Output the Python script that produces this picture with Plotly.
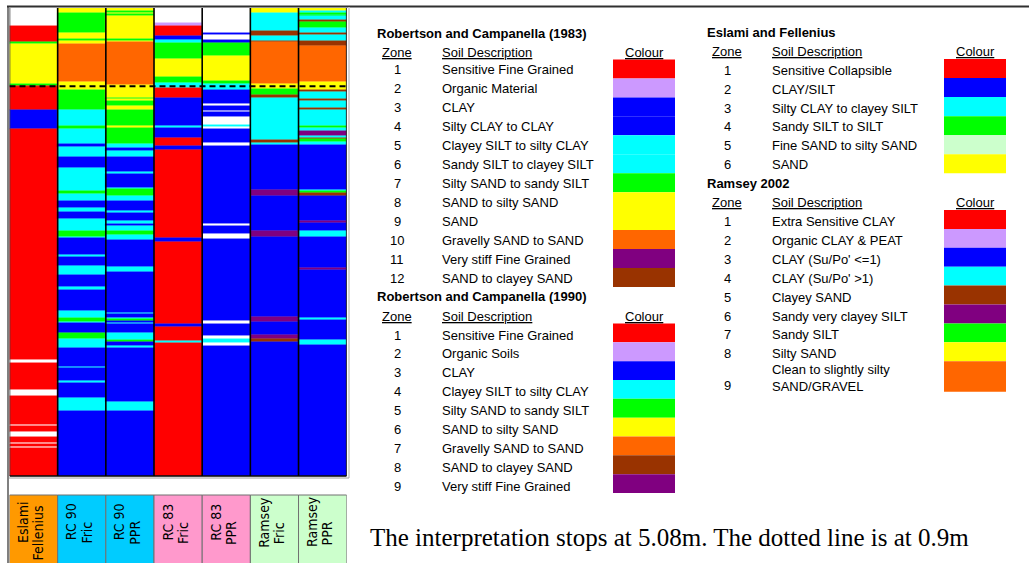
import plotly.graph_objects as go

W, H = 1029, 563

# ---------------- data ----------------
col_line1 = ["Eslami", "RC 90", "RC 90", "RC 83", "RC 83", "Ramsey", "Ramsey"]
col_line2 = ["Fellenius", "Fric", "PPR", "Fric", "PPR", "Fric", "PPR"]
col_scheme = ["EF", "RC90", "RC90", "RC83", "RC83", "RAM", "RAM"]
label_colours = ["#FF9900", "#00CCFF", "#00CCFF", "#FF99CC", "#FF99CC", "#CCFFCC", "#CCFFCC"]

depth_top = 0.06
depth_end = 5.08
dotted_depth = 0.9

# layer boundaries (m) and zone codes (0 = no interpretation)
ef_bounds = [0.06, 0.25, 0.43, 0.45, 0.88, 0.90, 1.15, 1.36, 3.84, 3.87, 4.16, 4.22, 4.53,
             4.54, 4.61, 4.66, 4.73, 4.74, 4.77, 4.78, 5.08]
ef_zones = [0, 1, 4, 6, 4, 1, 2, 1, 0, 1, 0, 1, 0, 1, 0, 1, 0, 1, 0, 1]

rc90_fric_bounds = [0.06, 0.11, 0.33, 0.39, 0.41, 0.45, 0.85, 0.94, 1.15, 1.33, 1.36, 1.52, 1.55,
                    1.66, 1.78, 2.02, 2.06, 2.13, 2.20, 2.25, 2.32, 2.45, 2.52, 2.53, 2.71, 2.73,
                    2.83, 2.92, 3.05, 3.09, 3.31, 3.38, 3.43, 3.44, 3.55, 3.61, 3.71, 3.91, 3.92,
                    4.06, 4.08, 4.24, 4.38, 5.08]
rc90_fric_zones = [6, 5, 6, 5, 6, 7, 6, 5, 4, 5, 4, 3, 4, 3, 4, 5, 4, 3, 4, 3, 4, 5, 4, 3, 4, 3,
                   4, 3, 4, 3, 4, 5, 4, 3, 5, 4, 3, 4, 3, 4, 3, 4, 3]

rc90_ppr_bounds = [0.06, 0.09, 0.11, 0.12, 0.15, 0.39, 0.41, 0.43, 0.89, 1.02, 1.04, 1.06, 1.11,
                   1.15, 1.33, 1.35, 1.52, 1.56, 1.59, 1.66, 1.82, 1.84, 1.99, 2.00, 2.08, 2.13,
                   2.24, 2.26, 2.34, 2.38, 2.40, 2.45, 2.50, 2.55, 2.84, 2.89, 3.33, 3.34, 3.38,
                   3.40, 3.42, 3.44, 3.45, 3.55, 3.62, 3.64, 3.69, 3.71, 4.29, 4.38, 5.08]
rc90_ppr_zones = [6, 5, 6, 5, 6, 5, 6, 7, 6, 5, 6, 5, 6, 5, 6, 5, 4, 3, 4, 3, 4, 3, 4, 5, 4, 3,
                  4, 3, 4, 3, 4, 5, 4, 3, 4, 3, 4, 3, 4, 5, 3, 4, 3, 4, 5, 3, 4, 3, 4, 3]

rc83_fric_bounds = [0.06, 0.22, 0.25, 0.36, 0.40, 0.44, 0.61, 0.80, 0.86, 0.92, 1.02, 1.33, 1.35,
                    1.45, 1.54, 1.58, 2.53, 2.57, 3.45, 3.48, 3.63, 3.65, 5.08]
rc83_fric_zones = [0, 2, 1, 3, 5, 7, 8, 7, 5, 1, 3, 5, 3, 1, 3, 1, 3, 1, 3, 1, 5, 1]

rc83_ppr_bounds = [0.06, 0.33, 0.35, 0.40, 0.44, 0.57, 0.84, 0.88, 0.94, 1.09, 1.11, 1.16, 1.18,
                   1.23, 1.31, 1.34, 1.36, 1.51, 1.54, 2.38, 2.40, 2.48, 2.54, 3.42, 3.45, 3.58,
                   3.61, 3.65, 3.69, 5.08]
rc83_ppr_zones = [0, 3, 0, 3, 7, 8, 7, 5, 3, 0, 3, 0, 3, 0, 5, 0, 3, 0, 3, 0, 3, 0, 3, 0, 3, 0,
                  5, 0, 3]

ram_fric_bounds = [0.06, 0.11, 0.31, 0.36, 0.41, 0.43, 0.87, 0.93, 0.99, 1.02, 1.48, 1.51, 1.53,
                   2.01, 2.08, 2.45, 2.52, 3.37, 3.43, 3.57, 3.61, 3.64, 5.08]
ram_fric_zones = [8, 4, 5, 4, 5, 9, 8, 7, 5, 4, 5, 4, 3, 6, 3, 6, 3, 6, 3, 6, 5, 3]

ram_ppr_bounds = [0.06, 0.09, 0.11, 0.13, 0.14, 0.15, 0.19, 0.21, 0.27, 0.33, 0.35, 0.41, 0.47,
                  0.85, 0.94, 0.96, 1.04, 1.06, 1.13, 1.15, 1.33, 1.35, 1.38, 1.43, 1.45, 1.47,
                  1.50, 1.53, 2.01, 2.02, 2.04, 2.08, 2.35, 2.37, 2.45, 2.52, 2.85, 2.87, 3.38,
                  3.41, 3.62, 3.67, 5.08]
ram_ppr_zones = [8, 4, 7, 4, 7, 4, 5, 7, 4, 5, 4, 5, 9, 8, 5, 4, 5, 4, 5, 4, 7, 4, 6, 4, 5, 7,
                 4, 3, 4, 7, 5, 3, 6, 3, 4, 3, 6, 3, 4, 3, 4, 3]

# legends
rc83_zone = [1, 2, 3, 4, 5, 6, 7, 8, 9, 10, 11, 12]
rc83_desc = ["Sensitive Fine Grained", "Organic Material", "CLAY", "Silty CLAY to CLAY",
             "Clayey SILT to silty CLAY", "Sandy SILT to clayey SILT", "Silty SAND to sandy SILT",
             "SAND to silty SAND", "SAND", "Gravelly SAND to SAND", "Very stiff Fine Grained",
             "SAND to clayey SAND"]
rc83_col = ["#FF0000", "#CC99FF", "#0000FF", "#0000FF", "#00FFFF", "#00FFFF", "#00FF00",
            "#FFFF00", "#FFFF00", "#FF6600", "#800080", "#993300"]

rc90_zone = [1, 2, 3, 4, 5, 6, 7, 8, 9]
rc90_desc = ["Sensitive Fine Grained", "Organic Soils", "CLAY", "Clayey SILT to silty CLAY",
             "Silty SAND to sandy SILT", "SAND to silty SAND", "Gravelly SAND to SAND",
             "SAND to clayey SAND", "Very stiff Fine Grained"]
rc90_col = ["#FF0000", "#CC99FF", "#0000FF", "#00FFFF", "#00FF00", "#FFFF00", "#FF6600",
            "#993300", "#800080"]

ef_zone = [1, 2, 3, 4, 5, 6]
ef_desc = ["Sensitive Collapsible", "CLAY/SILT", "Silty CLAY to clayey SILT", "Sandy SILT to SILT",
           "Fine SAND to silty SAND", "SAND"]
ef_col = ["#FF0000", "#0000FF", "#00FFFF", "#00FF00", "#CCFFCC", "#FFFF00"]

ram_zone = [1, 2, 3, 4, 5, 6, 7, 8, 9]
ram_desc = ["Extra Sensitive CLAY", "Organic CLAY & PEAT", "CLAY (Su/Po' <=1)", "CLAY (Su/Po' >1)",
            "Clayey SAND", "Sandy very clayey SILT", "Sandy SILT", "Silty SAND",
            "Clean to slightly silty<br>SAND/GRAVEL"]
ram_col = ["#FF0000", "#CC99FF", "#0000FF", "#00FFFF", "#993300", "#800080", "#00FF00",
           "#FFFF00", "#FF6600"]

note_text = "The interpretation stops at 5.08m. The dotted line is at 0.9m"

# ---------------- figure ----------------
lookup = {
    "EF": dict(zip(ef_zone, ef_col)),
    "RC90": dict(zip(rc90_zone, rc90_col)),
    "RC83": dict(zip(rc83_zone, rc83_col)),
    "RAM": dict(zip(ram_zone, ram_col)),
}
columns = [(ef_bounds, ef_zones), (rc90_fric_bounds, rc90_fric_zones),
           (rc90_ppr_bounds, rc90_ppr_zones), (rc83_fric_bounds, rc83_fric_zones),
           (rc83_ppr_bounds, rc83_ppr_zones), (ram_fric_bounds, ram_fric_zones),
           (ram_ppr_bounds, ram_ppr_zones)]


def px(x):
    return x / W


def py(y):
    return 1 - y / H


fig = go.Figure()
for i, (b, z) in enumerate(columns):
    n = len(z)
    tops = b[:n]
    thick = [b[k + 1] - b[k] for k in range(n)]
    cols = [lookup[col_scheme[i]].get(zz, "#FFFFFF") for zz in z]
    fig.add_trace(go.Bar(x=[i] * n, y=thick, base=tops, width=1.0,
                         marker=dict(color=cols, line=dict(color=cols, width=0.4)),
                         showlegend=False, hoverinfo="skip"))

y_top_px, y_bot_px = 8, 476
shapes = []
# column separators
for k in range(len(columns) + 1):
    xs = k - 0.5
    col = "#000000"
    if k == 0:
        col = "#404040"
    shapes.append(dict(type="line", xref="x", yref="paper", x0=xs, x1=xs,
                       y0=py(y_bot_px), y1=py(y_top_px), line=dict(color=col, width=1.6)))
# bottom line of strips
shapes.append(dict(type="line", xref="x", yref="paper", x0=-0.5, x1=len(columns) - 0.5,
                   y0=py(y_bot_px), y1=py(y_bot_px), line=dict(color="#000000", width=1.6)))
# outer frame
shapes.append(dict(type="line", xref="paper", yref="paper", x0=px(8), x1=px(8),
                   y0=py(7), y1=py(H + 2), line=dict(color="#808080", width=2)))
shapes.append(dict(type="line", xref="paper", yref="paper", x0=px(7), x1=px(W + 2),
                   y0=py(6.5), y1=py(6.5), line=dict(color="#303030", width=2)))
shapes.append(dict(type="line", xref="paper", yref="paper", x0=px(349), x1=px(349),
                   y0=py(7), y1=py(478), line=dict(color="#C8C8C8", width=1.5)))
shapes.append(dict(type="line", xref="paper", yref="paper", x0=px(9), x1=px(349),
                   y0=py(478), y1=py(478), line=dict(color="#A0A0A0", width=1)))
# dotted line
shapes.append(dict(type="line", xref="x", yref="y", x0=-0.5, x1=len(columns) - 0.5,
                   y0=dotted_depth, y1=dotted_depth,
                   line=dict(color="#000000", width=2, dash="6px,4px")))
# label boxes
for i, c in enumerate(label_colours):
    shapes.append(dict(type="rect", xref="x", yref="paper", x0=i - 0.5, x1=i + 0.5,
                       y0=py(H + 2), y1=py(495), fillcolor=c,
                       line=dict(color="#707070", width=1)))

annotations = []
LBL_FONT = "Liberation Sans Narrow, Arial Narrow, DejaVu Sans Condensed, Liberation Sans, Arial"
for i in range(len(columns)):
    annotations.append(dict(x=i - 0.22, y=py(522), xref="x", yref="paper", text=col_line1[i],
                            textangle=-90, showarrow=False, xanchor="center", yanchor="middle",
                            font=dict(family=LBL_FONT, size=14, color="#000000")))
    annotations.append(dict(x=i + 0.1, y=py(533), xref="x", yref="paper", text=col_line2[i],
                            textangle=-90, showarrow=False, xanchor="center", yanchor="middle",
                            font=dict(family=LBL_FONT, size=14, color="#000000")))

TXT = "Arial, Liberation Sans, sans-serif"


def add_table(title, tx, ty, hy, zx, dx, cx, rows_y, zones, descs, colours, sw_x0, sw_x1, sw_tops, sw_bots):
    annotations.append(dict(x=px(tx), y=py(ty), xref="paper", yref="paper", text="<b>%s</b>" % title,
                            showarrow=False, xanchor="left", yanchor="middle",
                            font=dict(family=TXT, size=13, color="#000000")))
    for t, xx in (("Zone", zx - 17), ("Soil Description", dx), ("Colour", cx)):
        annotations.append(dict(x=px(xx), y=py(hy), xref="paper", yref="paper", text="<u>%s</u>" % t,
                                showarrow=False, xanchor="left", yanchor="middle",
                                font=dict(family=TXT, size=13, color="#000000")))
    for k in range(len(zones)):
        annotations.append(dict(x=px(zx), y=py(rows_y[k]), xref="paper", yref="paper",
                                text=str(zones[k]), showarrow=False, xanchor="center",
                                yanchor="middle", font=dict(family=TXT, size=13, color="#000000")))
        dy = rows_y[k] - (8 if "<br>" in descs[k] else 0)
        annotations.append(dict(x=px(dx), y=py(dy), xref="paper", yref="paper",
                                text=descs[k], showarrow=False, xanchor="left", align="left",
                                yanchor="middle", font=dict(family=TXT, size=13, color="#000000")))
        shapes.append(dict(type="rect", xref="paper", yref="paper", x0=px(sw_x0), x1=px(sw_x1),
                           y0=py(sw_bots[k]), y1=py(sw_tops[k]), fillcolor=colours[k],
                           line=dict(width=0)))


# RC 1983
r83 = [70 + 18.95 * k for k in range(12)]
s83t = [59.5 + 18.95 * k for k in range(12)]
add_table("Robertson and Campanella (1983)", 375, 33, 52, 397, 440, 623, r83, rc83_zone, rc83_desc,
          rc83_col, 613, 675, s83t, [t + 18.95 for t in s83t])
# RC 1990
r90 = [335 + 18.9 * k for k in range(9)]
s90t = [323.5 + 18.83 * k for k in range(9)]
add_table("Robertson and Campanella (1990)", 375, 296.5, 316.5, 397, 440, 623, r90, rc90_zone,
          rc90_desc, rc90_col, 613, 675, s90t, [t + 18.83 for t in s90t])
# Eslami
ref = [70.7 + 18.75 * k for k in range(6)]
seft = [59 + 19.05 * k for k in range(6)]
add_table("Eslami and Fellenius", 705, 32.5, 51.7, 727, 769.5, 953.5, ref, ef_zone, ef_desc, ef_col,
          944, 1006, seft, [t + 19.05 for t in seft])
# Ramsey
rram = [221.7 + 18.86 * k for k in range(8)] + [385.5]
sramt = [210 + 18.9 * k for k in range(9)]
srab = [t + 18.9 for t in sramt[:8]] + [391.7]
add_table("Ramsey 2002", 705, 183.3, 202.7, 727, 769.5, 953.5, rram, ram_zone, ram_desc, ram_col,
          944, 1006, sramt, srab)

annotations.append(dict(x=px(368), y=py(537), xref="paper", yref="paper", text=note_text,
                        showarrow=False, xanchor="left", yanchor="middle",
                        font=dict(family="Times New Roman, Liberation Serif, serif", size=25,
                                  color="#000000")))

fig.update_layout(
    width=W, height=H, margin=dict(l=0, r=0, t=0, b=0),
    paper_bgcolor="#FFFFFF", plot_bgcolor="#FFFFFF",
    barmode="overlay", bargap=0,
    xaxis=dict(domain=[px(9.5), px(346.7)], range=[-0.5, len(columns) - 0.5], visible=False,
               fixedrange=True),
    yaxis=dict(domain=[py(y_bot_px), py(y_top_px)], range=[depth_end, depth_top], visible=False,
               fixedrange=True),
    shapes=shapes, annotations=annotations, showlegend=False,
)

fig.write_html("out.html", config={"displayModeBar": False},
               post_script="document.body.style.margin='0';")
